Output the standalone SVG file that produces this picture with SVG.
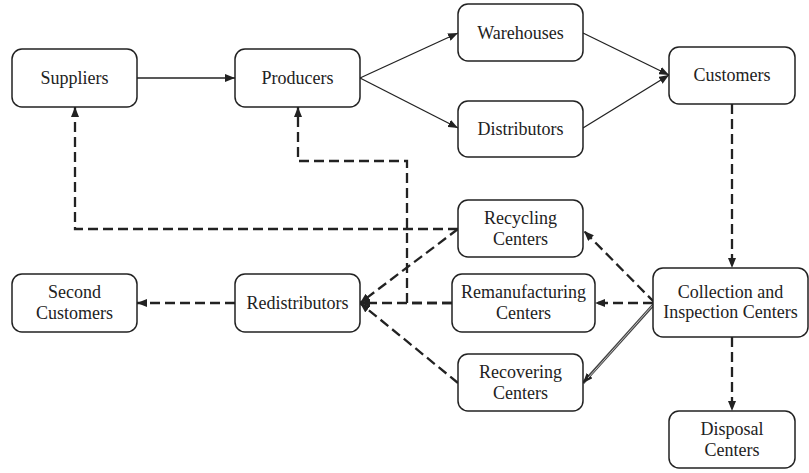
<svg xmlns="http://www.w3.org/2000/svg" width="809" height="473" viewBox="0 0 809 473">
<style>
.box{fill:#fff;stroke:#222;stroke-width:1.5}
.t{font-family:'Liberation Serif','DejaVu Serif','Times New Roman',serif;font-size:18px;fill:#222;text-anchor:middle}
.s{fill:none;stroke:#222;stroke-width:1.3}
.d{fill:none;stroke:#222;stroke-width:2.3;stroke-dasharray:10 5}
</style>
<defs>
<marker id="ah" viewBox="0 0 10 8" refX="10" refY="4" markerWidth="10" markerHeight="8" markerUnits="userSpaceOnUse" orient="auto">
<path d="M0,0 L10,4 L0,8 z" fill="#222"/>
</marker>
</defs>
<g id="connectors">
<line class="s" x1="137" y1="78" x2="235" y2="78" marker-end="url(#ah)"/>
<line class="s" x1="360" y1="78" x2="458" y2="33" marker-end="url(#ah)"/>
<line class="s" x1="360" y1="78" x2="458" y2="128" marker-end="url(#ah)"/>
<line class="s" x1="583" y1="33" x2="669" y2="75" marker-end="url(#ah)"/>
<line class="s" x1="583" y1="128" x2="669" y2="75" marker-end="url(#ah)"/>
<line class="d" x1="732" y1="104" x2="732" y2="268" marker-end="url(#ah)"/>
<line class="d" x1="732" y1="337" x2="732" y2="411" marker-end="url(#ah)"/>
<line class="d" x1="655" y1="303" x2="584" y2="231" marker-end="url(#ah)"/>
<line class="d" x1="653" y1="303" x2="595" y2="303" marker-end="url(#ah)"/>
<line x1="655" y1="303" x2="583" y2="383" stroke="#444" stroke-width="3" marker-end="url(#ah)"/>
<line x1="653" y1="305" x2="588" y2="378" stroke="#ddd" stroke-width="0.8"/>
<polyline class="d" points="458,229 75,229 75,107" marker-end="url(#ah)"/>
<polyline class="d" points="452,303 407,303 407,161 298,161 298,107" marker-end="url(#ah)"/>
<line class="d" x1="452" y1="303" x2="360" y2="303" marker-end="url(#ah)"/>
<line class="d" x1="458" y1="229" x2="360" y2="303" marker-end="url(#ah)"/>
<line class="d" x1="458" y1="383" x2="360" y2="303" marker-end="url(#ah)"/>
<line class="d" x1="235" y1="303" x2="137" y2="303" marker-end="url(#ah)"/>
</g>
<g id="suppliers"><rect class="box" x="12" y="49" width="125" height="58" rx="10"/><text class="t" x="74.5" y="84">Suppliers</text></g>
<g id="producers"><rect class="box" x="235" y="49" width="125" height="58" rx="10"/><text class="t" x="297.5" y="84">Producers</text></g>
<g id="warehouses"><rect class="box" x="458" y="4" width="125" height="57" rx="10"/><text class="t" x="520.5" y="39">Warehouses</text></g>
<g id="distributors"><rect class="box" x="458" y="101" width="125" height="56" rx="10"/><text class="t" x="520.5" y="135">Distributors</text></g>
<g id="customers"><rect class="box" x="669" y="47" width="126" height="57" rx="10"/><text class="t" x="732" y="81">Customers</text></g>
<g id="second-customers"><rect class="box" x="12" y="274" width="125" height="58" rx="10"/><text class="t" x="74.5" y="298">Second</text><text class="t" x="74.5" y="319">Customers</text></g>
<g id="redistributors"><rect class="box" x="235" y="274" width="125" height="58" rx="10"/><text class="t" x="297.5" y="309">Redistributors</text></g>
<g id="recycling"><rect class="box" x="458" y="200" width="125" height="57" rx="10"/><text class="t" x="520.5" y="224">Recycling</text><text class="t" x="520.5" y="245">Centers</text></g>
<g id="remanufacturing"><rect class="box" x="452" y="274" width="143" height="58" rx="10"/><text class="t" x="523.5" y="298">Remanufacturing</text><text class="t" x="523.5" y="319">Centers</text></g>
<g id="collection"><rect class="box" x="653" y="268" width="155" height="69" rx="10"/><text class="t" x="730.5" y="298">Collection and</text><text class="t" x="730.5" y="318">Inspection Centers</text></g>
<g id="recovering"><rect class="box" x="458" y="354" width="125" height="57" rx="10"/><text class="t" x="520.5" y="378">Recovering</text><text class="t" x="520.5" y="399">Centers</text></g>
<g id="disposal"><rect class="box" x="669" y="411" width="126" height="57" rx="10"/><text class="t" x="732" y="435">Disposal</text><text class="t" x="732" y="456">Centers</text></g>
</svg>
